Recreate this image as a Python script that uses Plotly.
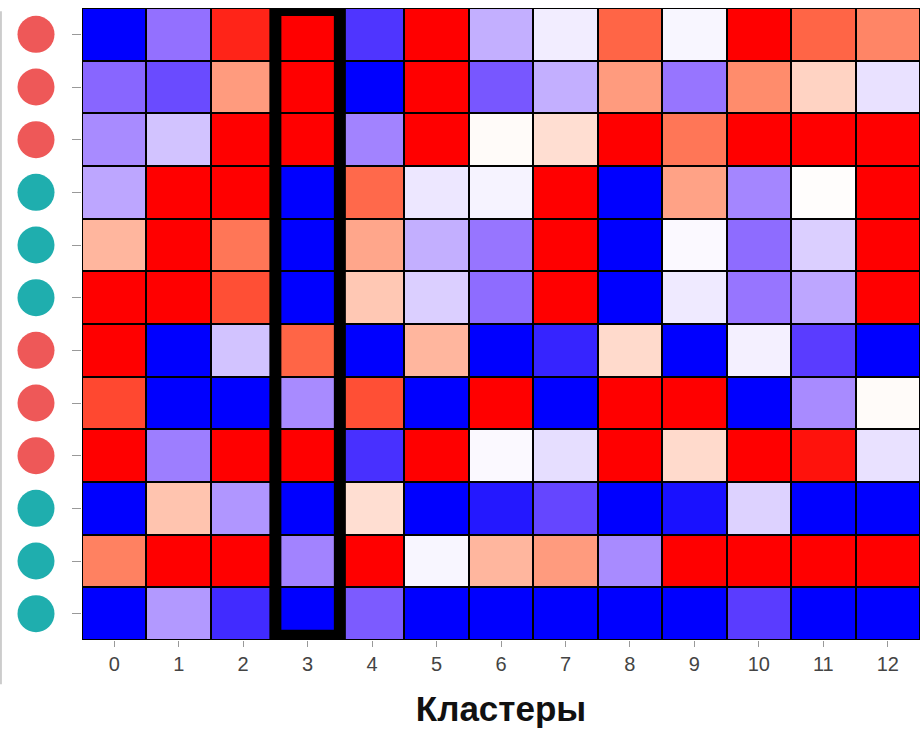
import plotly.graph_objects as go

clusters = [str(i) for i in range(13)]
row_ids = list(range(12))
group_colors = ["#EE5858", "#EE5858", "#EE5858", "#1FAEAE", "#1FAEAE", "#1FAEAE",
                "#EE5858", "#EE5858", "#EE5858", "#1FAEAE", "#1FAEAE", "#1FAEAE"]

values = [
    [-1.00, -0.50, 0.90, 1.00, -0.78, 1.00, -0.27, -0.06, 0.70, -0.03, 1.00, 0.70, 0.55],
    [-0.55, -0.68, 0.45, 1.00, -1.00, 1.00, -0.62, -0.27, 0.45, -0.48, 0.52, 0.20, -0.10],
    [-0.40, -0.20, 1.00, 1.00, -0.43, 1.00, 0.02, 0.15, 1.00, 0.62, 1.00, 1.00, 1.00],
    [-0.30, 1.00, 1.00, -1.00, 0.68, -0.08, -0.04, 1.00, -1.00, 0.42, -0.42, 0.01, 1.00],
    [0.33, 1.00, 0.62, -1.00, 0.40, -0.27, -0.48, 1.00, -1.00, -0.02, -0.52, -0.16, 1.00],
    [1.00, 1.00, 0.78, -1.00, 0.25, -0.16, -0.52, 1.00, -1.00, -0.07, -0.48, -0.30, 1.00],
    [1.00, -1.00, -0.20, 0.70, -1.00, 0.33, -1.00, -0.85, 0.17, -1.00, -0.05, -0.75, -1.00],
    [0.80, -1.00, -1.00, -0.40, 0.78, -1.00, 1.00, -1.00, 1.00, 1.00, -1.00, -0.40, 0.02],
    [1.00, -0.45, 1.00, 1.00, -0.80, 1.00, -0.02, -0.11, 1.00, 0.17, 1.00, 0.95, -0.10],
    [-1.00, 0.27, -0.36, -1.00, 0.15, -1.00, -0.90, -0.70, -1.00, -0.93, -0.15, -1.00, -1.00],
    [0.57, 1.00, 1.00, -0.43, 1.00, -0.03, 0.33, 0.45, -0.40, 1.00, 1.00, 1.00, 1.00],
    [-1.00, -0.35, -0.82, -1.00, -0.60, -1.00, -1.00, -1.00, -1.00, -1.00, -0.75, -1.00, -1.00],
]

highlight_cluster = 3

colorscale = [
    [0.0, "#0000FF"], [0.125, "#5A3CFF"], [0.25, "#9370FF"], [0.375, "#C7B4FF"],
    [0.5, "#FFFFFF"], [0.625, "#FFC8B4"], [0.75, "#FF9070"], [0.875, "#FF5A3C"],
    [1.0, "#FF0000"],
]

W, H = 921, 739
n_cols = len(clusters)
n_rows = len(row_ids)

fig = go.Figure()
fig.add_trace(go.Heatmap(
    z=values, x=list(range(n_cols)), y=row_ids,
    zmin=-1, zmax=1, colorscale=colorscale, showscale=False,
    xgap=2, ygap=2, hoverongaps=False,
))
fig.add_trace(go.Scatter(
    x=[0.5] * n_rows, y=row_ids, mode="markers",
    marker=dict(size=37, color=group_colors, line=dict(width=0)),
    xaxis="x2", yaxis="y", showlegend=False, hoverinfo="skip",
))

# black background behind the heatmap cells (cell borders)
fig.add_shape(type="rect", xref="x", yref="y",
              x0=-0.5, x1=n_cols - 0.5, y0=-0.5, y1=n_rows - 0.5,
              fillcolor="black", line=dict(width=0), layer="below")
# highlight box around cluster 3
fig.add_shape(type="rect", xref="x", yref="y",
              x0=highlight_cluster - 0.5, x1=highlight_cluster + 0.5,
              y0=-0.46, y1=n_rows - 0.58,
              line=dict(color="black", width=12), layer="above")
fig.add_shape(type="line", xref="paper", yref="paper", x0=0.001, x1=0.001,
              y0=-0.07, y1=0.995, line=dict(color="#CCCCCC", width=2))

fig.update_layout(
    width=W, height=H,
    margin=dict(l=0, r=1, t=8, b=99),
    paper_bgcolor="white", plot_bgcolor="white",
    font=dict(family="Liberation Sans, Arial, sans-serif", color="#444444"),
    showlegend=False,
    xaxis=dict(
        domain=[82 / 920, 1.0], range=[-0.5, n_cols - 0.5],
        tickmode="array", tickvals=list(range(n_cols)), ticktext=clusters,
        ticks="outside", ticklen=6, tickcolor="#999999", tickwidth=1,
        tickfont=dict(size=20, color="#444444"),
        showgrid=False, zeroline=False, showline=False,
        title=dict(text="<b>Кластеры</b>", standoff=22,
                   font=dict(size=35, color="#111111",
                             family="Liberation Sans, Arial, sans-serif")),
    ),
    xaxis2=dict(domain=[0, 72 / 920], range=[0, 1], visible=False, anchor="y"),
    yaxis=dict(
        range=[n_rows - 0.5, -0.5], tickmode="array", tickvals=row_ids,
        showticklabels=False, ticks="outside", ticklen=9, tickcolor="#999999",
        showgrid=False, zeroline=False, showline=False,
    ),
)
fig.write_html("out.html")
